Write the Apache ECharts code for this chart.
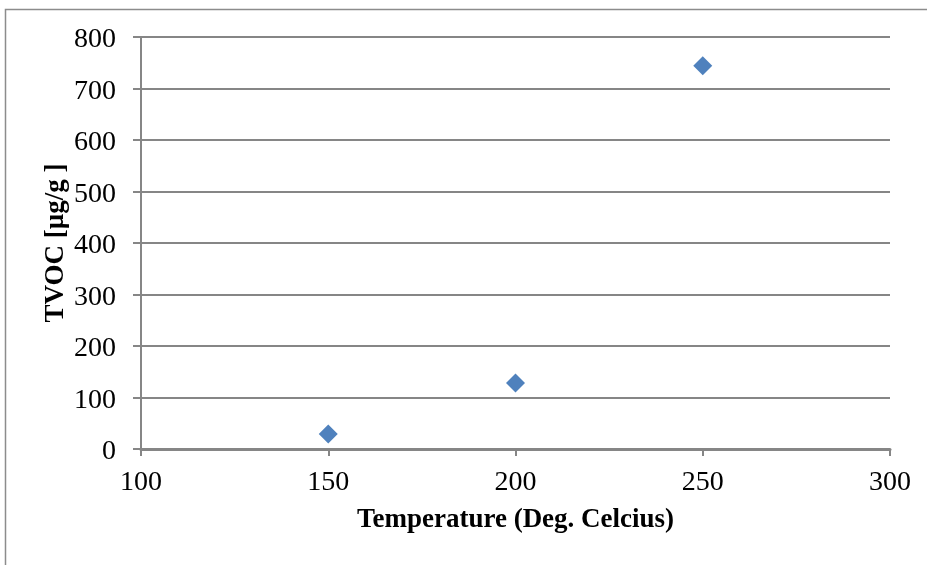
<!DOCTYPE html>
<html>
<head>
<meta charset="utf-8">
<script src="https://cdn.jsdelivr.net/npm/echarts@6/dist/echarts.min.js"></script>
<style>
  html, body { margin: 0; padding: 0; background: #fff; }
  #chart { width: 927px; height: 565px; }
</style>
</head>
<body>
<div id="chart"></div>
<script>
// Temperature (°C) and measured TVOC (µg/g)
const temperatures = [150, 200, 250];
const tvocValues = [29, 128, 744];
const xTicks = [100, 150, 200, 250, 300];
const yTicks = [0, 100, 200, 300, 400, 500, 600, 700, 800];

const points = temperatures.map((t, i) => [t, tvocValues[i]]);
const fontFamily = '"Liberation Serif", "Times New Roman", serif';
const gray = '#868686';

const chart = echarts.init(document.getElementById('chart'), null, { renderer: 'canvas' });
chart.setOption({
  animation: false,
  backgroundColor: '#ffffff',
  graphic: [{
    type: 'rect',
    shape: { x: 5.5, y: 9.5, width: 940, height: 580 },
    style: { fill: 'none', stroke: '#8c8c8c', lineWidth: 1.5 },
    silent: true
  }],
  grid: { left: 141, right: 37, top: 37, bottom: 116, containLabel: false },
  xAxis: {
    type: 'value',
    min: xTicks[0],
    max: xTicks[xTicks.length - 1],
    interval: 50,
    name: 'Temperature (Deg. Celcius)',
    nameLocation: 'middle',
    nameGap: 58,
    nameMoveOverlap: false,
    nameTextStyle: { fontFamily, fontSize: 27, fontWeight: 'bold', color: '#000' },
    axisLine: { show: true, lineStyle: { color: gray, width: 3 } },
    axisTick: { show: true, length: 7, lineStyle: { color: gray, width: 2 } },
    axisLabel: { fontFamily, fontSize: 28, color: '#000', margin: 20 },
    splitLine: { show: false }
  },
  yAxis: {
    type: 'value',
    min: yTicks[0],
    max: yTicks[yTicks.length - 1],
    interval: 100,
    name: 'TVOC [µg/g ]',
    nameLocation: 'middle',
    nameGap: 71,
    nameMoveOverlap: false,
    nameTextStyle: { fontFamily, fontSize: 27, fontWeight: 'bold', color: '#000' },
    axisLine: { show: true, lineStyle: { color: gray, width: 2 } },
    axisTick: { show: true, inside: false, length: 8, lineStyle: { color: gray, width: 2 } },
    axisLabel: { fontFamily, fontSize: 28, color: '#000', margin: 25, verticalAlign: 'top', lineHeight: 6 },
    splitLine: { show: true, lineStyle: { color: gray, width: 2 } }
  },
  series: [{
    type: 'scatter',
    data: points,
    symbol: 'diamond',
    symbolSize: [19, 19],
    itemStyle: { color: '#4F81BD', opacity: 1 }
  }]
});
</script>
</body>
</html>
